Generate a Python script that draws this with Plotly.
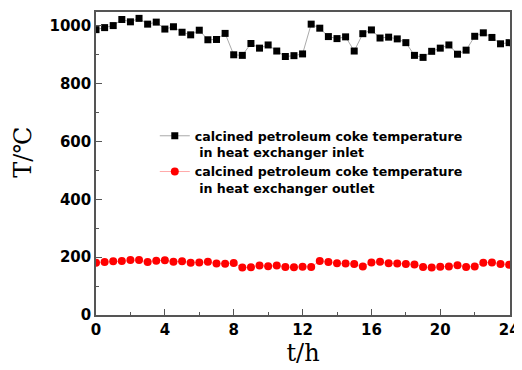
import plotly.graph_objects as go

t_hours = [i * 0.5 for i in range(49)]

inlet_temp = [987, 994, 1001, 1022, 1014, 1026, 1006, 1013, 989, 997,
              978, 969, 985, 952, 953, 974, 900, 898, 939, 923,
              934, 913, 894, 897, 903, 1006, 992, 963, 956, 962,
              913, 973, 986, 958, 961, 955, 942, 898, 891, 912,
              923, 934, 902, 916, 964, 976, 960, 938, 942]

outlet_temp = [181, 183, 186, 187, 190, 190, 183, 188, 189, 184,
               186, 181, 182, 184, 178, 177, 180, 164, 165, 171,
               169, 171, 166, 165, 167, 166, 187, 183, 179, 178,
               176, 168, 182, 184, 179, 178, 176, 175, 166, 164,
               167, 168, 172, 166, 168, 181, 182, 176, 174]

inlet_name = "calcined petroleum coke temperature<br> in heat exchanger inlet"
outlet_name = "calcined petroleum coke temperature<br> in heat exchanger outlet"

fig = go.Figure()
fig.add_trace(go.Scatter(
    x=t_hours, y=inlet_temp, name=inlet_name, mode="lines+markers",
    line=dict(color="#aaaaaa", width=1),
    marker=dict(symbol="square", size=7, color="black"),
))
fig.add_trace(go.Scatter(
    x=t_hours, y=outlet_temp, name=outlet_name, mode="lines+markers",
    line=dict(color="#ffaaaa", width=1),
    marker=dict(symbol="circle", size=8, color="#ff0000"),
))

axis_common = dict(
    showline=True, linecolor="#555555", linewidth=1.5, mirror=True,
    showgrid=False, zeroline=False, ticks="inside", ticklen=6,
    tickcolor="#555555", tickwidth=1, ticklabeloverflow="allow",
    tickfont=dict(family="DejaVu Sans", size=15, color="black", weight="bold"),
)

fig.update_layout(
    width=514, height=362,
    margin=dict(l=88, r=8, t=2, b=55),
    paper_bgcolor="white", plot_bgcolor="white",
    showlegend=True,
    legend=dict(
        x=0.142, y=0.64, xanchor="left", yanchor="top", valign="top",
        bgcolor="rgba(0,0,0,0)",
        font=dict(family="DejaVu Sans", size=12.6, color="black", weight="bold"),
        tracegroupgap=2,
    ),
    xaxis=dict(
        range=[0, 24.05], dtick=4, tick0=0,
        minor=dict(dtick=2, ticks="inside", ticklen=3, tickcolor="#555555"),
        title=dict(text="t/h", font=dict(family="DejaVu Serif", size=24, color="black"), standoff=0),
        **axis_common,
    ),
    yaxis=dict(
        range=[0, 1048], dtick=200, tick0=0,
        minor=dict(dtick=100, ticks="inside", ticklen=3, tickcolor="#555555"),
        **axis_common,
    ),
    annotations=[dict(
        text="T/℃", xref="paper", yref="paper", x=-0.177, y=0.538,
        xanchor="center", yanchor="middle", textangle=-90, showarrow=False,
        font=dict(family="DejaVu Serif", size=24, color="black"),
    )],
)

fig.write_html("out.html")
